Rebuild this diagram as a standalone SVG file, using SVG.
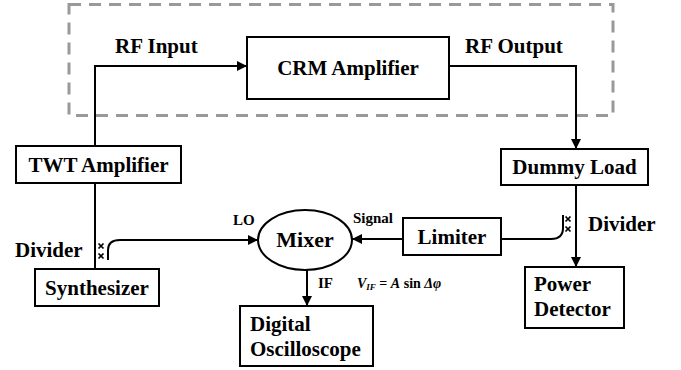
<svg xmlns="http://www.w3.org/2000/svg" width="681" height="370" viewBox="0 0 681 370">
  <defs>
    <marker id="arrow" viewBox="0 0 10 10" refX="10" refY="5" markerWidth="10" markerHeight="10" markerUnits="userSpaceOnUse" orient="auto">
      <path d="M0,0 L10,5 L0,10 Z" fill="#000"/>
    </marker>
    <!-- small cross used for the coupler ports of the dividers -->
    <path id="cross" d="M-2.5,-2.5 L2.5,2.5 M-2.5,2.5 L2.5,-2.5" fill="none" stroke="#000" stroke-width="1.7"/>
  </defs>
  <style>
    .box { fill: #fff; stroke: #000; stroke-width: 2; }
    .lbl { font-family: "Liberation Serif", "Times New Roman", serif; font-weight: bold; fill: #000; }
    .node { font-size: 21px; }
    .edge { font-size: 21px; }
    .small { font-size: 15px; }
    .wire { fill: none; stroke: #000; stroke-width: 2; }
  </style>
  <rect width="681" height="370" fill="#fff"/>

  <!-- dashed enclosure around the CRM amplifier -->
  <rect x="69" y="4.5" width="544" height="111" fill="none" stroke="#999" stroke-width="3" stroke-dasharray="12,8"/>

  <g id="connectors">
    <path class="wire" d="M95,146 V66 H247" marker-end="url(#arrow)"/>
    <path class="wire" d="M449,66 H576 V149" marker-end="url(#arrow)"/>
    <path class="wire" d="M95,183 V269"/>
    <path class="wire" d="M108,260 V250 Q108,240 120,240 H258" marker-end="url(#arrow)"/>
    <path class="wire" d="M403,239 H352" marker-end="url(#arrow)"/>
    <path class="wire" d="M501,239 H551 Q563,239 563,228 V215"/>
    <path class="wire" d="M576,185 V267" marker-end="url(#arrow)"/>
    <path class="wire" d="M307,270 V306" marker-end="url(#arrow)"/>
    <use href="#cross" x="101" y="246"/>
    <use href="#cross" x="101" y="256"/>
    <use href="#cross" x="568" y="219"/>
    <use href="#cross" x="568" y="229"/>
    <text class="lbl edge" x="115" y="53">RF Input</text>
    <text class="lbl edge" x="465" y="53">RF Output</text>
    <text class="lbl edge" x="15" y="257">Divider</text>
    <text class="lbl edge" x="588" y="231">Divider</text>
    <text class="lbl small" x="233" y="225">LO</text>
    <text class="lbl small" x="353" y="223">Signal</text>
    <text class="lbl small" x="318" y="288">IF</text>
    <text class="lbl" font-size="14" x="357" y="288"><tspan font-style="italic">V</tspan><tspan font-style="italic" font-size="9" dy="2">IF</tspan><tspan dy="-2"> = </tspan><tspan font-style="italic">A</tspan><tspan> sin </tspan><tspan font-style="italic">Δφ</tspan></text>
  </g>

  <g id="crm-amplifier">
    <rect class="box" x="247" y="37" width="202" height="62"/>
    <text class="lbl node" x="348" y="75" text-anchor="middle">CRM Amplifier</text>
  </g>

  <g id="twt-amplifier">
    <rect class="box" x="16" y="146" width="165" height="37"/>
    <text class="lbl node" x="98.5" y="172" text-anchor="middle">TWT Amplifier</text>
  </g>

  <g id="dummy-load">
    <rect class="box" x="501" y="149" width="147" height="36"/>
    <text class="lbl node" x="574.5" y="174" text-anchor="middle">Dummy Load</text>
  </g>

  <g id="synthesizer">
    <rect class="box" x="35" y="269" width="124" height="37"/>
    <text class="lbl node" x="97" y="295" text-anchor="middle">Synthesizer</text>
  </g>

  <g id="mixer">
    <ellipse cx="305" cy="240" rx="47" ry="30" fill="#fff" stroke="#000" stroke-width="2"/>
    <text class="lbl" font-size="22" x="305" y="247" text-anchor="middle">Mixer</text>
  </g>

  <g id="limiter">
    <rect class="box" x="403" y="218" width="98" height="37"/>
    <text class="lbl node" x="452" y="244" text-anchor="middle">Limiter</text>
  </g>

  <g id="digital-oscilloscope">
    <rect class="box" x="240" y="306" width="133" height="60"/>
    <text class="lbl node" x="250" y="331">Digital</text>
    <text class="lbl node" x="250" y="356">Oscilloscope</text>
  </g>

  <g id="power-detector">
    <rect class="box" x="525" y="267" width="99" height="61"/>
    <text class="lbl node" x="534" y="291">Power</text>
    <text class="lbl node" x="534" y="316">Detector</text>
  </g>
</svg>
